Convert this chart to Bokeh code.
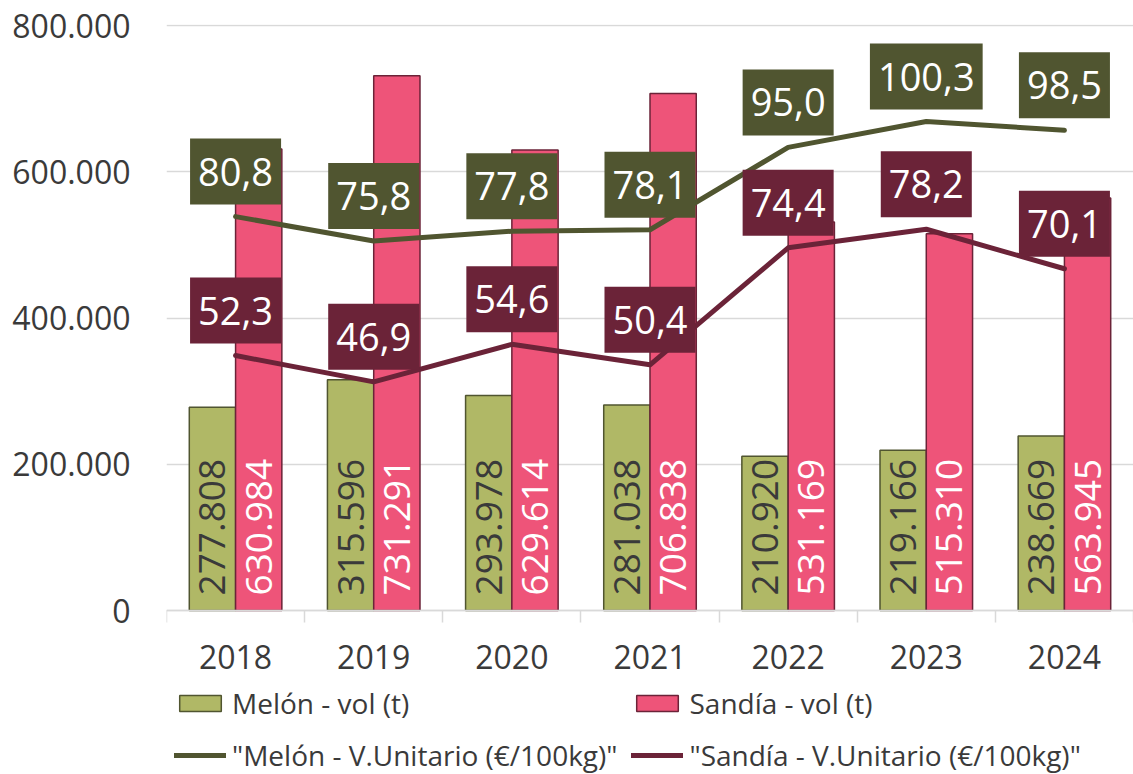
import numpy as np
from bokeh.plotting import figure
from bokeh.models import (Range1d, FixedTicker, Legend, LegendItem, Label,
                          ColumnDataSource)
from bokeh.transform import dodge
from bokeh.core.properties import value
from bokeh.embed import file_html
from bokeh.resources import INLINE

# ---------------- data ----------------
years = ["2018", "2019", "2020", "2021", "2022", "2023", "2024"]
melon_vol = [277808, 315596, 293978, 281038, 210920, 219166, 238669]
sandia_vol = [630984, 731291, 629614, 706838, 531169, 515310, 563945]
melon_price = [80.8, 75.8, 77.8, 78.1, 95.0, 100.3, 98.5]
sandia_price = [52.3, 46.9, 54.6, 50.4, 74.4, 78.2, 70.1]
y_ticks = [0, 200000, 400000, 600000, 800000]
vol_max = 800000      # primary axis maximum
price_max = 120       # hidden secondary axis maximum
series_names = ["Melón - vol (t)", "Sandía - vol (t)",
                '"Melón - V.Unitario (€/100kg)"', '"Sandía - V.Unitario (€/100kg)"']

# ---------------- style / layout ----------------
FONT = "Open Sans"
MELON_FILL = "#B0B866"
MELON_DARK = "#505530"
SANDIA_FILL = "#EE5479"
SANDIA_DARK = "#6B2338"
GRID = "#D9D9D9"
TXT = "#3A3A3A"
BAR_W = 0.335

W, H = 1133, 774
LEFT, TOP = 166, 24
AXIS_PX = 585          # pixels from value 0 to vol_max
BELOW_ZERO_PX = H - TOP - AXIS_PX - 1   # room under the zero line (axis + legend)
k = AXIS_PX / vol_max
y_top = vol_max + 1 / k
y_bottom = -BELOW_ZERO_PX / k


def fmt_int(v):
    return f"{v:,}".replace(",", ".")


def fmt_dec(v):
    return f"{v:.1f}".replace(".", ",")


x = [float(i) + 0.5 for i in range(len(years))]

src = ColumnDataSource(dict(
    x=x,
    melon=melon_vol,
    sandia=sandia_vol,
    melon_lbl=[fmt_int(v) for v in melon_vol],
    sandia_lbl=[fmt_int(v) for v in sandia_vol],
    mp=melon_price,
    sp=sandia_price,
))

p = figure(width=W, height=H, output_backend="svg", toolbar_location=None,
           x_range=Range1d(0, len(years)), y_range=Range1d(y_bottom, y_top),
           min_border_left=LEFT, min_border_right=0, min_border_top=TOP,
           min_border_bottom=0, background_fill_color="white",
           border_fill_color="white")
p.outline_line_color = None
p.extra_y_ranges = {"price": Range1d(y_bottom * price_max / vol_max,
                                     y_top * price_max / vol_max)}

# x axis, pinned at zero
p.xaxis.fixed_location = 0
p.xaxis.ticker = FixedTicker(ticks=x, minor_ticks=list(range(len(years) + 1)))
p.xaxis.major_label_overrides = {xi: yr for xi, yr in zip(x, years)}
p.xaxis.major_tick_line_color = None
p.xaxis.major_tick_out = 0
p.xaxis.major_tick_in = 0
p.xaxis.minor_tick_line_color = GRID
p.xaxis.minor_tick_line_width = 1.5
p.xaxis.minor_tick_out = 12
p.xaxis.minor_tick_in = 0
p.xaxis.axis_line_color = GRID
p.xaxis.axis_line_width = 1.5
p.xaxis.major_label_text_font = FONT
p.xaxis.major_label_text_font_size = "32px"
p.xaxis.major_label_text_color = TXT
p.xaxis.major_label_standoff = 22

p.yaxis.ticker = FixedTicker(ticks=y_ticks, minor_ticks=[])
p.yaxis.major_label_overrides = {t: fmt_int(t) for t in y_ticks}
p.yaxis.axis_line_color = None
p.yaxis.major_tick_line_color = None
p.yaxis.minor_tick_line_color = None
p.yaxis.major_tick_out = 0
p.yaxis.major_tick_in = 0
p.yaxis.major_label_text_font = FONT
p.yaxis.major_label_text_font_size = "32px"
p.yaxis.major_label_text_color = TXT
p.yaxis.major_label_standoff = 36

p.xgrid.grid_line_color = None
p.ygrid.ticker = FixedTicker(ticks=y_ticks, minor_ticks=[])
p.ygrid.grid_line_color = GRID
p.ygrid.grid_line_width = 1.5

# bars
r_m = p.vbar(x=dodge("x", -BAR_W / 2, range=p.x_range), top="melon", width=BAR_W,
             source=src, fill_color=MELON_FILL, line_color=MELON_DARK, line_width=1.5)
r_s = p.vbar(x=dodge("x", BAR_W / 2, range=p.x_range), top="sandia", width=BAR_W,
             source=src, fill_color=SANDIA_FILL, line_color=SANDIA_DARK, line_width=1.5)

# bar value labels (vertical)
p.text(x=dodge("x", -BAR_W / 2, range=p.x_range), y=0, text="melon_lbl", source=src,
       angle=np.pi / 2, text_align="left", text_baseline="middle",
       text_font=value(FONT), text_font_size="37px", text_color=TXT, y_offset=-15)
p.text(x=dodge("x", BAR_W / 2, range=p.x_range), y=0, text="sandia_lbl", source=src,
       angle=np.pi / 2, text_align="left", text_baseline="middle",
       text_font=value(FONT), text_font_size="37px", text_color="white", y_offset=-15)

# lines
l_m = p.line("x", "mp", source=src, y_range_name="price", line_width=5,
             line_color=MELON_DARK, line_cap="round", line_join="round")
l_s = p.line("x", "sp", source=src, y_range_name="price", line_width=5,
             line_color=SANDIA_DARK, line_cap="round", line_join="round")

# line value labels (boxed)
for vals, col in ((melon_price, MELON_DARK), (sandia_price, SANDIA_DARK)):
    for xi, v in zip(x, vals):
        p.add_layout(Label(x=xi, y=v, y_range_name="price", text=fmt_dec(v),
                           y_offset=45, text_align="center", text_baseline="middle",
                           text_font=FONT, text_font_size="38px", text_color="white",
                           background_fill_color=col, padding=(8, 19)))

# legend (inside the frame, under the zero line)
legend = Legend(items=[
    LegendItem(label=series_names[0], renderers=[r_m]),
    LegendItem(label=series_names[1], renderers=[r_s]),
    LegendItem(label=series_names[2], renderers=[l_m]),
    LegendItem(label=series_names[3], renderers=[l_s]),
], orientation="horizontal", ncols=2, location=(8, 0),
    glyph_width=52, glyph_height=20, label_standoff=6, spacing=14,
    padding=0, margin=0, label_text_font=FONT, label_text_font_size="28px",
    label_text_color=TXT, background_fill_alpha=0, border_line_color=None)
p.add_layout(legend)

open("out.html", "w").write(file_html(p, INLINE))
